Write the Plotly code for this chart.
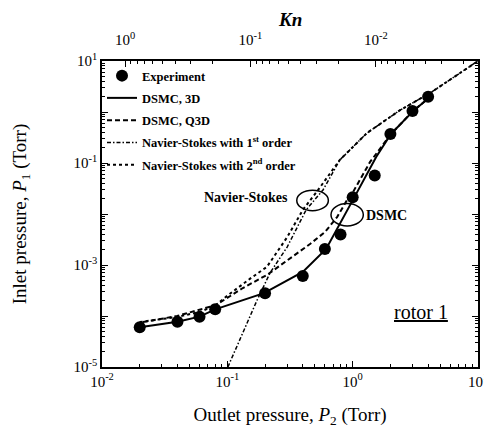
import numpy as np
import plotly.graph_objects as go

# ---------------- data ----------------
# Experiment
exp_p2 = [0.02, 0.04, 0.06, 0.08, 0.2, 0.4, 0.6, 0.8, 1.0, 1.5, 2.0, 3.0, 4.0]
exp_p1 = [6.0e-5, 7.7e-5, 9.7e-5, 1.35e-4, 2.8e-4, 6.1e-4, 2.06e-3, 3.96e-3,
          0.0212, 0.0569, 0.371, 1.05, 2.0]

# DSMC, 3D (solid)
d3_p2 = [0.02, 0.04, 0.06, 0.08, 0.196, 0.40, 0.614, 0.815, 1.03, 1.54, 2.02, 3.05, 4.15]
d3_p1 = [6.0e-5, 7.7e-5, 9.7e-5, 1.35e-4, 2.8e-4, 7.3e-4, 2.06e-3, 7.6e-3,
         0.0212, 0.131, 0.371, 1.05, 2.0]

# DSMC, Q3D (dashed)
q3_p2 = [0.0212, 0.0397, 0.0812, 0.133, 0.207, 0.317, 0.457, 0.602, 0.751, 0.902,
         1.007, 1.377, 1.565, 2.025, 3.034, 4.147]
q3_p1 = [7.6e-5, 1.0e-4, 1.64e-4, 3.54e-4, 6.37e-4, 1.37e-3, 2.58e-3, 4.44e-3,
         8.7e-3, 0.0188, 0.027, 0.105, 0.157, 0.371, 1.05, 1.97]

# Navier-Stokes with 1st order (dash-dot)
ns1_p2 = [0.101, 0.173, 0.219, 0.30, 0.425, 0.58, 0.79, 1.30, 2.39, 4.15, 10.0]
ns1_p1 = [1.0e-5, 2.06e-4, 6.97e-4, 2.25e-3, 0.012, 0.0296, 0.115, 0.387, 1.09, 2.36, 10.0]

# Navier-Stokes with 2nd order (dotted)
ns2_p2 = [0.02, 0.04, 0.06, 0.08, 0.10, 0.126, 0.152, 0.207, 0.30, 0.40, 0.53,
          0.79, 1.30, 2.39, 4.15, 10.0]
ns2_p1 = [7.6e-5, 9.6e-5, 1.2e-4, 1.6e-4, 2.5e-4, 3.9e-4, 5.4e-4, 9.2e-4, 3.5e-3,
          0.012, 0.0296, 0.115, 0.387, 1.09, 2.36, 10.0]

# Knudsen number axis: Kn = KN_P2 / P2
KN_P2 = 0.0153
x_range_p2 = [0.01, 10.0]
y_range_p1 = [1e-5, 10.0]

x_tickvals = [0.01, 0.1, 1, 10]
x_ticktext = ["10<sup>-2</sup>", "10<sup>-1</sup>", "10<sup>0</sup>", "10<sup>1</sup>"]
y_tickvals = [10, 1, 0.1, 0.01, 0.001, 1e-4, 1e-5]
y_ticktext = ["10<sup>1</sup>", "", "10<sup>-1</sup>", "", "10<sup>-3</sup>", "", "10<sup>-5</sup>"]
kn_tickvals = [1, 0.1, 0.01, 0.001]
kn_ticktext = ["10<sup>0</sup>", "10<sup>-1</sup>", "10<sup>-2</sup>", ""]
minor_digits = [2, 3, 4, 5, 6, 7, 8, 9]

SERIF = "Liberation Serif, Times New Roman, serif"
BLACK = "black"

fig = go.Figure()

fig.add_trace(go.Scatter(
    x=exp_p2, y=exp_p1, mode="markers", name="Experiment",
    legendgroup="a",
    marker=dict(color=BLACK, size=12, symbol="circle")))
fig.add_trace(go.Scatter(
    x=d3_p2, y=d3_p1, mode="lines", name="DSMC, 3D", legendgroup="b",
    line=dict(color=BLACK, width=2, dash="solid")))
fig.add_trace(go.Scatter(
    x=q3_p2, y=q3_p1, mode="lines", name="DSMC, Q3D", legendgroup="c",
    line=dict(color=BLACK, width=2, dash="5px,3px")))
fig.add_trace(go.Scatter(
    x=ns1_p2, y=ns1_p1, mode="lines", name="Navier-Stokes with 1<sup>st</sup> order",
    legendgroup="d",
    line=dict(color=BLACK, width=1.5, dash="4px,2px,1.5px,2px")))
fig.add_trace(go.Scatter(
    x=ns2_p2, y=ns2_p1, mode="lines", name="Navier-Stokes with 2<sup>nd</sup> order",
    legendgroup="e",
    line=dict(color=BLACK, width=2, dash="dot")))

# invisible trace to carry the Kn (top) axis
kn_vals = [KN_P2 / v for v in x_range_p2]
fig.add_trace(go.Scatter(x=kn_vals, y=[10.0, 10.0], xaxis="x2", mode="lines",
                         line=dict(width=0, color="rgba(0,0,0,0)"),
                         showlegend=False, hoverinfo="skip"))


def minor_vals(lo_exp, hi_exp):
    return [m * 10.0 ** e for e in range(lo_exp, hi_exp) for m in minor_digits]


axis_common = dict(
    type="log", showgrid=False, zeroline=False, showline=True, automargin=False,
    linecolor=BLACK, linewidth=1.5, ticks="inside", ticklen=6,
    tickcolor=BLACK, tickwidth=1,
    tickfont=dict(family=SERIF, size=15, color=BLACK),
)


def minor_ticks(vals):
    return dict(ticks="inside", ticklen=3, tickcolor=BLACK, tickwidth=1,
                showgrid=False, tickmode="array", tickvals=vals)


# the page body adds an 8 px offset; the figure is sized to fit the window
fig.update_layout(
    width=484, height=432,
    margin=dict(l=94, r=14, t=53, b=73),
    paper_bgcolor="white", plot_bgcolor="white",
    font=dict(family=SERIF, color=BLACK),
    showlegend=True,
    legend=dict(x=0.0, y=1.0, xanchor="left", yanchor="top",
                bgcolor="rgba(0,0,0,0)", borderwidth=0,
                traceorder="grouped", tracegroupgap=3,
                font=dict(family=SERIF, size=12.5, color=BLACK, weight="bold")),
    xaxis=dict(axis_common, minor=minor_ticks(minor_vals(-2, 1)),
               range=[np.log10(x_range_p2[0]), np.log10(x_range_p2[1])],
               tickvals=x_tickvals, ticktext=x_ticktext, mirror=True,
               title=dict(text="Outlet pressure, <i>P</i><sub>2</sub> (Torr)",
                          font=dict(family=SERIF, size=19, color=BLACK), standoff=19)),
    yaxis=dict(axis_common, minor=minor_ticks(minor_vals(-5, 1)),
               range=[np.log10(y_range_p1[0]), np.log10(y_range_p1[1])],
               tickvals=y_tickvals, ticktext=y_ticktext, mirror="ticks",
               title=dict(text="Inlet pressure, <i>P</i><sub>1</sub> (Torr)",
                          font=dict(family=SERIF, size=19, color=BLACK), standoff=42)),
    xaxis2=dict(axis_common, overlaying="x", side="top", anchor="y",
                minor=minor_ticks(minor_vals(-3, 1)),
                range=[np.log10(KN_P2 / x_range_p2[0]), np.log10(KN_P2 / x_range_p2[1])],
                tickvals=kn_tickvals, ticktext=kn_ticktext,
                ticklabelstandoff=8),
)

fig.add_annotation(text="<b><i>Kn</i></b>", xref="paper", yref="paper",
                   x=0.5, y=1.134, xanchor="center", yanchor="middle", showarrow=False,
                   font=dict(family=SERIF, size=19, color=BLACK))

# ellipses marking the curve groups (paper coordinates of the plot area)
fig.add_shape(type="circle", xref="paper", yref="paper",
              x0=0.518, x1=0.602, y0=0.511, y1=0.578,
              line=dict(color=BLACK, width=1.5))
fig.add_shape(type="circle", xref="paper", yref="paper",
              x0=0.609, x1=0.695, y0=0.461, y1=0.534,
              line=dict(color=BLACK, width=1.5))

fig.add_annotation(text="<b>Navier-Stokes</b>", xref="paper", yref="paper",
                   x=0.383, y=0.553, xanchor="center", yanchor="middle", showarrow=False,
                   font=dict(family=SERIF, size=14, color=BLACK))
fig.add_annotation(text="<b>DSMC</b>", xref="paper", yref="paper",
                   x=0.756, y=0.494, xanchor="center", yanchor="middle", showarrow=False,
                   font=dict(family=SERIF, size=14, color=BLACK))
fig.add_annotation(text="<u>rotor 1</u>", xref="paper", yref="paper",
                   x=0.848, y=0.18, xanchor="center", yanchor="middle", showarrow=False,
                   font=dict(family=SERIF, size=20, color=BLACK))

fig.write_html("out.html")
